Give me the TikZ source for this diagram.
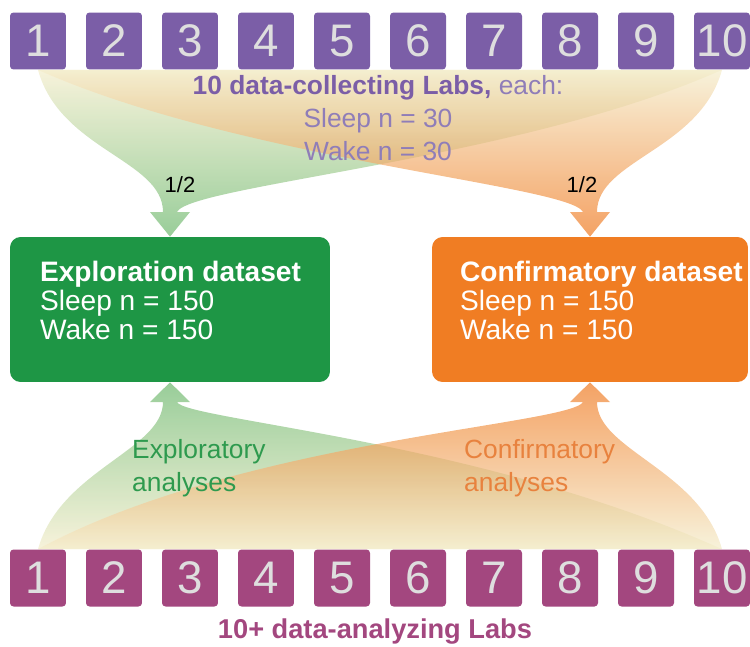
\documentclass[tikz,border=0pt]{standalone}
\usepackage{fontspec}
\setmainfont{Liberation Sans}
\usetikzlibrary{calc,backgrounds}
\definecolor{labpurple}{HTML}{7B5EA7}
\definecolor{lablight}{HTML}{8F7DB8}
\definecolor{labmagenta}{HTML}{A3477F}
\definecolor{dsgreen}{HTML}{1E9645}
\definecolor{dsorange}{HTML}{F07D23}
\definecolor{fangreen}{HTML}{6DB86E}
\definecolor{fanorange}{HTML}{F07A22}
\definecolor{fanpale}{HTML}{F4EDCB}
\definecolor{txtgreen}{HTML}{2E9A4E}
\definecolor{txtorange}{HTML}{E8823E}
\definecolor{digit}{HTML}{DEDEDE}
\begin{document}
\begin{tikzpicture}
  [x=0.02cm,y=-0.02cm,
   lab/.style={rectangle,rounded corners=2pt,inner sep=0pt,
     minimum width=1.12cm,minimum height=1.14cm,text=digit,
     font=\fontsize{26}{26}\selectfont},
   dataset/.style={rectangle,rounded corners=6pt,minimum height=2.9cm},
   datatext/.style={anchor=north west,inner sep=0pt,align=left,text=white,
     font=\fontsize{16}{16.5}\selectfont},
   greenfan/.style={top color=fanpale,bottom color=fangreen,fill opacity=.7},
   orangefan/.style={top color=fanpale,bottom color=fanorange,fill opacity=.7}]
  \useasboundingbox (0,0) rectangle (750,646);

  \foreach \i in {1,...,10}
    \node[lab,fill=labpurple] (t\i) at ({38+76*(\i-1)},41) {\i};
  \foreach \i in {1,...,10}
    \node[lab,fill=labmagenta] (b\i) at ({38+76*(\i-1)},578) {\i};

  \node[dataset,fill=dsgreen,minimum width=6.4cm] (expl) at (170,309.5) {};
  \node[dataset,fill=dsorange,minimum width=6.32cm] (conf) at (590,309.5) {};
  \node[datatext] (expltext) at ($(expl.north west)+(30,24)$)
    {\textbf{Exploration dataset}\\Sleep n = 150\\Wake n = 150};
  \node[datatext] (conftext) at ($(conf.north west)+(28,24)$)
    {\textbf{Confirmatory dataset}\\Sleep n = 150\\Wake n = 150};

  \node[align=center,text=lablight,font=\fontsize{15}{18.7}\selectfont] (collect) at (378,118)
    {\textcolor{labpurple}{\textbf{10 data-collecting Labs,}} each:\\Sleep n = 30\\Wake n = 30};
  \node[text=labmagenta,font=\bfseries\fontsize{15.5}{16}\selectfont] (analyze) at (375,632)
    {10+ data-analyzing Labs};
  \node[font=\fontsize{12.5}{14}\selectfont] (half1) at (180,185) {1/2};
  \node[font=\fontsize{12.5}{14}\selectfont] (half2) at (582,185) {1/2};
  \node[anchor=west,align=left,text=txtgreen,font=\fontsize{15}{18.7}\selectfont] (explore) at (126,468)
    {Exploratory\\analyses};
  \node[anchor=west,align=left,text=txtorange,font=\fontsize{15}{18.7}\selectfont] (confirm) at (458,468)
    {Confirmatory\\analyses};

  \begin{scope}[on background layer]
    % top fans, labs to datasets
    \shade[greenfan] (t1.south) .. controls (60,150) and (163,160) .. (163,212)
      -- (150,212) -- (expl.north) -- (190,212) -- (177,212)
      .. controls (190,185) and (520,160) .. (t10.south) -- cycle;
    \shade[orangefan] (t10.south) .. controls (700,150) and (597,160) .. (597,212)
      -- (610,212) -- (conf.north) -- (570,212) -- (583,212)
      .. controls (570,185) and (240,160) .. (t1.south) -- cycle;
    % bottom fans, labs to datasets
    \shade[greenfan,top color=fangreen,bottom color=fanpale]
      (b1.north) .. controls (60,470) and (163,450) .. (163,402)
      -- (150,402) -- (expl.south) -- (190,402) -- (177,402)
      .. controls (185,420) and (480,440) .. (b10.north) -- cycle;
    \shade[orangefan,top color=fanorange,bottom color=fanpale]
      (b10.north) .. controls (700,470) and (597,450) .. (597,402)
      -- (610,402) -- (conf.south) -- (570,402) -- (583,402)
      .. controls (570,425) and (240,440) .. (b1.north) -- cycle;
  \end{scope}

\end{tikzpicture}
\end{document}
